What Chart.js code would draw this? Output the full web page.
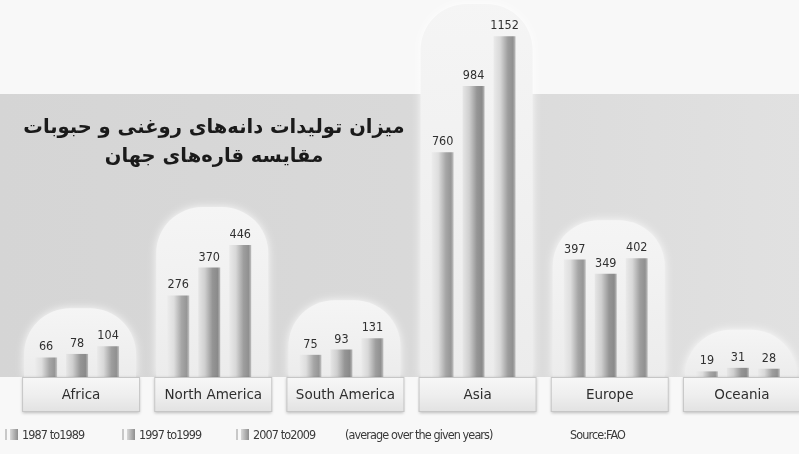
<!DOCTYPE html>
<html><head><meta charset="utf-8">
<script src="https://cdn.jsdelivr.net/npm/chart.js@4/dist/chart.umd.min.js"></script>
<style>
html,body{margin:0;padding:0;overflow:hidden;background:#f8f8f8;width:799px;height:454px;}
#wrap{position:relative;width:799px;height:454px;overflow:hidden;}
#c{position:absolute;left:0;top:0;}
#title{position:absolute;left:18px;width:392px;top:112px;direction:rtl;text-align:center;font-family:'DejaVu Sans',sans-serif;font-weight:bold;font-size:19.5px;line-height:29px;color:#1a1a1a;}
.lt{position:absolute;top:427px;font-family:'DejaVu Sans Condensed','Liberation Sans Narrow',sans-serif;font-size:12.5px;letter-spacing:-0.9px;color:#3a3a3a;white-space:nowrap;}
.sw1{display:inline-block;width:2px;height:11px;background:#c8c8c8;margin-right:3px;vertical-align:-1px;}
.sw2{display:inline-block;width:8px;height:11px;background:linear-gradient(90deg,#d8d8d8,#8e8e8e);margin-right:4px;vertical-align:-1px;}
</style></head>
<body><div id="wrap">
<canvas id="c" width="806" height="454" style="width:806px;height:454px"></canvas>
<div id="title">میزان تولیدات دانه‌های روغنی و حبوبات<br>مقایسه قاره‌های جهان</div>
<div id="legend"></div>
</div>
<script>
const categories = ['Africa','North America','South America','Asia','Europe','Oceania'];
const seriesNames = ['1987 to1989','1997 to1999','2007 to2009'];
const s1987 = [66, 276, 75, 760, 397, 19];
const s1997 = [78, 370, 93, 984, 349, 31];
const s2007 = [104, 446, 131, 1152, 402, 28];
const legendNote = '(average over the given years)';
const sourceText = 'Source:FAO';

const wrap = document.getElementById('wrap');
const legendX = [5, 122, 236];
seriesNames.forEach((n, i) => {
  const s = document.createElement('div'); s.className = 'lt';
  s.style.left = legendX[i] + 'px';
  s.innerHTML = '<span class="sw1"></span><span class="sw2"></span>';
  s.appendChild(document.createTextNode(n));
  wrap.appendChild(s);
});
const note = document.createElement('div'); note.className='lt'; note.style.left='345px'; note.textContent = legendNote; wrap.appendChild(note);
const src = document.createElement('div'); src.className='lt'; src.style.left='570px'; src.textContent = sourceText; wrap.appendChild(src);

const barStops = [
  [[0,'#ececec'],[0.3,'#dedede'],[0.65,'#a6a6a6'],[0.88,'#969696'],[1,'#c4c4c4']],
  [[0,'#e6e6e6'],[0.3,'#cfcfcf'],[0.65,'#959595'],[0.88,'#8a8a8a'],[1,'#bcbcbc']],
  [[0,'#eaeaea'],[0.3,'#d8d8d8'],[0.65,'#9e9e9e'],[0.88,'#909090'],[1,'#c0c0c0']]
];

function roundTop(ctx, l, r, t, b, rad){
  ctx.beginPath();
  ctx.moveTo(l, b);
  ctx.lineTo(l, t + rad);
  ctx.arcTo(l, t, l + rad, t, rad);
  ctx.lineTo(r - rad, t);
  ctx.arcTo(r, t, r, t + rad, rad);
  ctx.lineTo(r, b);
  ctx.closePath();
}

const deco = {
  id: 'deco',
  beforeDraw(chart){
    const {ctx, chartArea, scales} = chart;
    ctx.save();
    ctx.fillStyle = '#f8f8f8';
    ctx.fillRect(0,0,chart.width,chart.height);
    const g = ctx.createLinearGradient(0,0,chart.width,0);
    g.addColorStop(0,'#d5d5d5'); g.addColorStop(0.5,'#d9d9d9'); g.addColorStop(1,'#e1e1e1');
    ctx.fillStyle = g;
    ctx.fillRect(0, 94, chart.width, chartArea.bottom - 94);
    categories.forEach((c,i) => {
      const cx = scales.x.getPixelForTick(i) + 3;
      const mx = Math.max(s1987[i], s1997[i], s2007[i]);
      const top = scales.y.getPixelForValue(mx) - 38;
      ctx.save();
      ctx.shadowColor = 'rgba(255,255,255,0.9)';
      ctx.shadowBlur = 8;
      const ag = ctx.createLinearGradient(0, top, 0, chartArea.bottom);
      ag.addColorStop(0,'#f5f5f5'); ag.addColorStop(1,'#ececec');
      ctx.fillStyle = ag;
      roundTop(ctx, cx-56, cx+56, Math.max(top, 4), chartArea.bottom, 46);
      ctx.fill();
      ctx.restore();
    });
    ctx.restore();
  },
  beforeDatasetsDraw(chart){
    const ctx = chart.ctx;
    chart.data.datasets.forEach((ds, di) => {
      const meta = chart.getDatasetMeta(di);
      meta.data.forEach(el => {
        const w = el.width;
        const g = ctx.createLinearGradient(el.x - w/2, 0, el.x + w/2, 0);
        barStops[di].forEach(s => g.addColorStop(s[0], s[1]));
        el.options.backgroundColor = g;
      });
    });
  },
  afterDatasetsDraw(chart){
    const {ctx, chartArea, scales} = chart;
    ctx.save();
    ctx.font = '12.5px "DejaVu Sans Condensed", "DejaVu Sans", sans-serif';
    ctx.fillStyle = '#303030';
    ctx.textAlign = 'center';
    ctx.textBaseline = 'bottom';
    chart.data.datasets.forEach((ds, di) => {
      chart.getDatasetMeta(di).data.forEach((el, i) => {
        ctx.fillText(String(ds.data[i]), el.x, el.y - 4);
      });
    });
    categories.forEach((c,i) => {
      const cx = scales.x.getPixelForTick(i) + 4;
      const l = cx - 59, t = chartArea.bottom, w = 118, h = 35;
      ctx.save();
      ctx.shadowColor = 'rgba(0,0,0,0.25)';
      ctx.shadowBlur = 3;
      ctx.shadowOffsetY = 1;
      const bg = ctx.createLinearGradient(0, t, 0, t+h);
      bg.addColorStop(0,'#f7f7f7'); bg.addColorStop(0.5,'#efefef'); bg.addColorStop(1,'#e2e2e2');
      ctx.fillStyle = bg;
      ctx.fillRect(l, t, w, h);
      ctx.restore();
      ctx.strokeStyle = '#c6c6c6';
      ctx.lineWidth = 1;
      ctx.strokeRect(l+0.5, t+0.5, w-1, h-1);
      ctx.fillStyle = '#2e2e2e';
      ctx.font = '13.5px "DejaVu Sans", sans-serif';
      ctx.textBaseline = 'middle';
      ctx.fillText(c, cx, t + h/2 + 1);
    });
    ctx.restore();
  }
};

new Chart(document.getElementById('c'), {
  type: 'bar',
  data: {
    labels: categories,
    datasets: [
      {label: seriesNames[0], data: s1987, backgroundColor: () => '#bbb'},
      {label: seriesNames[1], data: s1997, backgroundColor: () => '#aaa'},
      {label: seriesNames[2], data: s2007, backgroundColor: () => '#b5b5b5'}
    ]
  },
  options: {
    responsive: false,
    animation: false,
    categoryPercentage: 0.703,
    barPercentage: 0.71,
    layout: {padding: {left: 11, right: 2, top: 0, bottom: 77}},
    plugins: {legend: {display: false}, tooltip: {enabled: false}},
    scales: {
      x: {display: false, grid: {display: false}},
      y: {display: false, min: 0, max: 1275, grid: {display: false}}
    }
  },
  plugins: [deco]
});
</script>
</body></html>
